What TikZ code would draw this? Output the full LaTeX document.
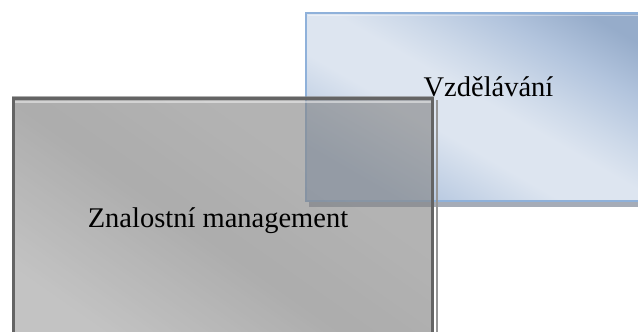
\documentclass[tikz,border=0pt]{standalone}
\usepackage{fontspec}
\setmainfont{Liberation Serif}

\definecolor{blueedge}{RGB}{143,177,218}
\definecolor{blueA}{RGB}{176,195,221}
\definecolor{blueB}{RGB}{221,229,240}
\definecolor{blueC}{RGB}{205,217,233}
\definecolor{blueD}{RGB}{178,196,221}
\definecolor{blueE}{RGB}{150,172,202}
\definecolor{blueshadow}{RGB}{150,158,170}
\definecolor{grayedge}{RGB}{100,100,100}
\definecolor{grayA}{RGB}{158,158,158}
\definecolor{grayB}{RGB}{122,122,122}
\definecolor{grayC}{RGB}{132,132,132}
\definecolor{grayshadow}{RGB}{150,150,150}

% diagonal band shading of the blue panel
\pgfdeclarehorizontalshading{bluepanel}{100bp}{
  color(0bp)=(blueA); color(42bp)=(blueA); color(47bp)=(blueB);
  color(50bp)=(blueB); color(52bp)=(blueC); color(55bp)=(blueD);
  color(58bp)=(blueE); color(100bp)=(blueE)}
% soft light-dark-light shading of the grey panel
\pgfdeclarehorizontalshading{graypanel}{100bp}{
  color(0bp)=(grayA); color(38bp)=(grayA); color(48bp)=(grayB);
  color(56bp)=(grayC); color(100bp)=(grayC)}

\tikzset{
  labeltext/.style={font=\fontsize{28.5}{34}\selectfont, text=black, inner sep=0pt, anchor=base},
}

\begin{document}
\begin{tikzpicture}[x=1pt,y=1pt]
  \useasboundingbox (0,0) rectangle (638,332);
  \clip (0,0) rectangle (638,332);

  % blue panel: soft shadow, shaded body, thin border
  \fill[blueshadow, opacity=0.85] (309,125) rectangle (690,313);
  \begin{scope}
    \clip (306,131) rectangle (684,319);
    \shade[shading=bluepanel, shading angle=60] (95,-175) rectangle (895,625);
  \end{scope}
  \draw[blueedge, line width=2] (306,131) rectangle (684,319);
  \draw[white, opacity=0.4, line width=1.5] (308,316.5) -- (684,316.5);

  % grey panel: shadow, translucent body, dark border, top highlight
  \fill[grayshadow] (436,-20) rectangle (437.5,232);
  \begin{scope}
    \clip (12,-20) rectangle (433,235);
    \shade[shading=graypanel, shading angle=55, opacity=0.62] (-128,-228) rectangle (572,472);
  \end{scope}
  \draw[white, opacity=0.45, line width=2] (15,230) -- (431,230);
  \draw[grayedge, line width=3] (13.5,-20) -- (13.5,233.5) -- (432.5,233.5) -- (432.5,-20);

  % captions
  \node[labeltext] (edu) at (488.5,235) {Vzdělávání};
  \node[labeltext] (km) at (218,104) {Znalostní management};
\end{tikzpicture}
\end{document}
